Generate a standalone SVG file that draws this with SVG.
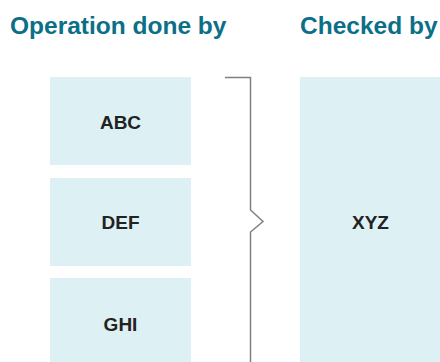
<svg xmlns="http://www.w3.org/2000/svg" width="440" height="362" viewBox="0 0 440 362">
<style>
.title{font-family:"Liberation Sans",Arial,sans-serif;font-weight:bold;font-size:24.5px;fill:#0b6f87}
.box{fill:#ddf0f3}
.lbl{font-family:"Liberation Sans",Arial,sans-serif;font-weight:bold;font-size:19px;fill:#222;text-anchor:middle}
.br{fill:none;stroke:#808080;stroke-width:1.5}
</style>
<rect width="440" height="362" fill="#fff"/>
<text class="title" x="10" y="34">Operation done by</text>
<text class="title" x="300" y="34">Checked by</text>
<g id="abc"><rect class="box" x="50" y="77" width="141" height="88"/><text class="lbl" x="120.5" y="129">ABC</text></g>
<g id="def"><rect class="box" x="50" y="178" width="141" height="88"/><text class="lbl" x="120.5" y="229">DEF</text></g>
<g id="ghi"><rect class="box" x="50" y="278" width="141" height="84"/><text class="lbl" x="120.5" y="330.5">GHI</text></g>
<g id="xyz"><rect class="box" x="300" y="77" width="140" height="285"/><text class="lbl" x="370.5" y="228.5">XYZ</text></g>
<g id="connectors"><path class="br" d="M225,77.5 H250.5 V210 L263,221.5 L250.5,232 V362"/></g>
</svg>
